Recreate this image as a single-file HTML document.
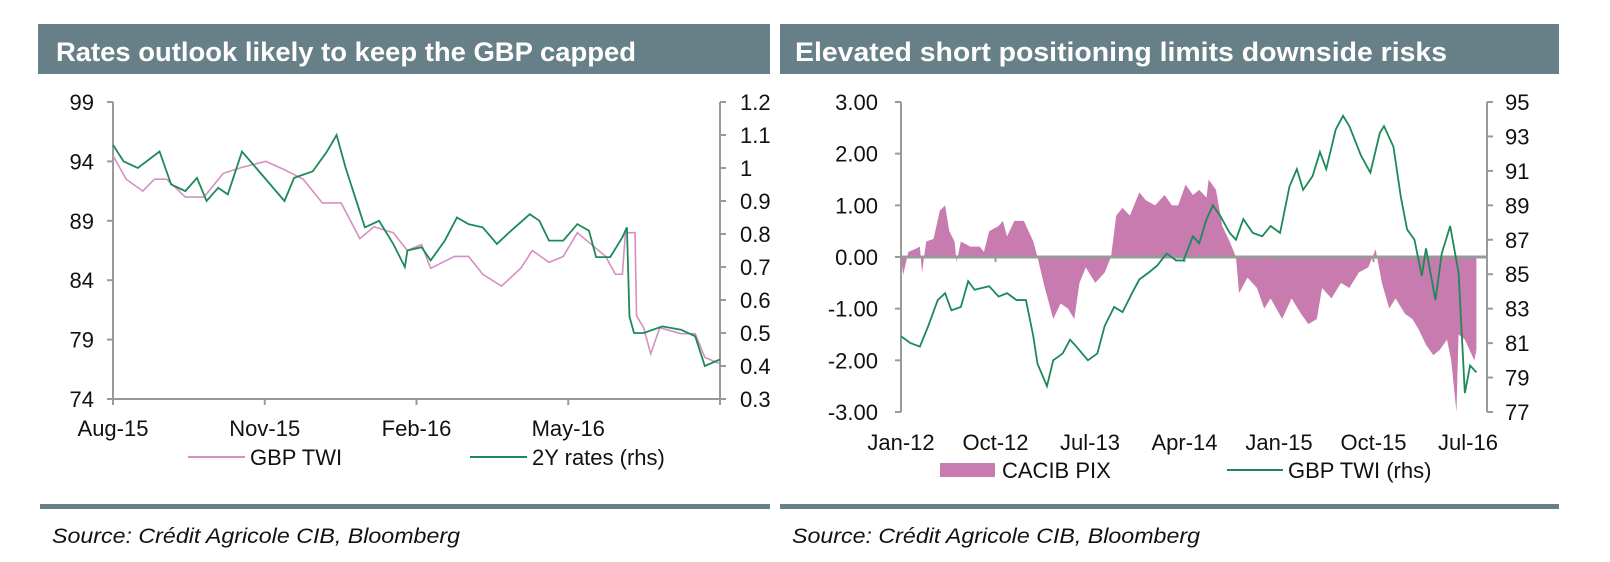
<!DOCTYPE html>
<html><head><meta charset="utf-8"><style>
html,body{margin:0;padding:0;background:#fff;}
svg{display:block;font-family:"Liberation Sans",Arial,sans-serif;}
</style></head><body>
<svg id="root" width="1610" height="562" viewBox="0 0 1610 562">
<rect x="38" y="24" width="732" height="50" fill="#677f87"/>
<text x="56" y="61" fill="#fff" font-weight="bold" font-size="27" textLength="580" lengthAdjust="spacingAndGlyphs">Rates outlook likely to keep the GBP capped</text>
<rect x="780" y="24" width="779" height="50" fill="#677f87"/>
<text x="795" y="61" fill="#fff" font-weight="bold" font-size="27" textLength="652" lengthAdjust="spacingAndGlyphs">Elevated short positioning limits downside risks</text>
<rect x="40" y="504" width="730" height="5" fill="#677f87"/>
<rect x="780" y="504" width="779" height="5" fill="#677f87"/>
<text x="52" y="543" font-style="italic" font-size="21" fill="#111" textLength="408" lengthAdjust="spacingAndGlyphs">Source: Crédit Agricole CIB, Bloomberg</text>
<text x="792" y="543" font-style="italic" font-size="21" fill="#111" textLength="408" lengthAdjust="spacingAndGlyphs">Source: Crédit Agricole CIB, Bloomberg</text>
<g id="left"></g>
<g id="right"></g>
</svg>
<script>
// ---------- Left chart data ----------
const leftXTicks = [0,3,6,9,12];
const leftXLabels = ["Aug-15","Nov-15","Feb-16","May-16",""];
const leftYTicks = [99,94,89,84,79,74];
const leftY2Ticks = [1.2,1.1,1,0.9,0.8,0.7,0.6,0.5,0.4,0.3];
const twiMonths = [0,0.26,0.59,0.82,1.06,1.43,1.8,2.18,2.55,3.02,3.39,3.76,4.14,4.51,4.88,5.16,5.54,5.82,6.1,6.28,6.75,7.03,7.31,7.68,8.06,8.29,8.62,8.9,9.18,9.46,9.74,9.93,10.07,10.13,10.32,10.35,10.49,10.63,10.81,11.23,11.51,11.7,11.98];
const twiValues = [94.5,92.5,91.5,92.5,92.5,91,91,93,93.5,94,93.3,92.5,90.5,90.5,87.5,88.5,88,86.5,87,85,86,86,84.5,83.5,85,86.5,85.5,86,88,87,86,84.5,84.5,88,88,81,80,77.8,80,79.5,79.5,77.5,77];
const rateMonths = [0,0.21,0.49,0.92,1.15,1.43,1.66,1.85,2.08,2.27,2.55,2.83,3.39,3.58,3.95,4.23,4.42,4.6,4.79,4.98,5.26,5.54,5.77,5.82,6.1,6.28,6.56,6.8,7.03,7.31,7.59,7.87,8.24,8.43,8.62,8.9,9.18,9.41,9.55,9.83,10.07,10.16,10.21,10.3,10.49,10.86,11.23,11.51,11.7,12];
const rateValues = [1.07,1.02,1.0,1.05,0.95,0.93,0.97,0.9,0.94,0.92,1.05,1.0,0.9,0.97,0.99,1.05,1.1,1.0,0.91,0.82,0.84,0.77,0.7,0.75,0.76,0.72,0.78,0.85,0.83,0.82,0.77,0.81,0.86,0.84,0.78,0.78,0.83,0.81,0.73,0.73,0.79,0.82,0.55,0.5,0.5,0.52,0.51,0.49,0.4,0.42];
// ---------- Right chart data ----------
const rightXTicks = [0,9,18,27,36,45,54];
const rightXLabels = ["Jan-12","Oct-12","Jul-13","Apr-14","Jan-15","Oct-15","Jul-16"];
const rightYTicks = [3,2,1,0,-1,-2,-3];
const rightYLabels = ["3.00","2.00","1.00","0.00","-1.00","-2.00","-3.00"];
const rightY2Ticks = [95,93,91,89,87,85,83,81,79,77];
const pixMonths = [0,0.2,0.7,1.3,1.8,2.0,2.4,3.1,3.7,4.2,4.6,5.1,5.3,5.7,6.6,7.5,7.9,8.4,9.3,9.7,10.1,10.8,11.7,12.6,13.0,13.7,14.5,15.2,15.9,16.5,17.0,17.6,18.5,19.4,20.0,20.5,21.1,21.8,22.7,23.3,24.2,25.1,25.8,26.4,27.1,27.8,28.4,29.1,29.3,30.0,30.6,31.3,31.9,32.2,33.0,33.9,34.6,35.2,36.3,37.2,38.1,38.8,39.6,40.1,41.0,41.9,42.7,43.6,44.5,45.2,45.8,46.5,47.1,48.0,48.7,49.3,50.0,50.7,51.3,52.0,52.4,52.9,53.1,53.7,54.6,54.8];
const pixValues = [0,-0.35,0.1,0.15,0.2,-0.3,0.3,0.35,0.9,1.0,0.5,0.3,-0.1,0.3,0.2,0.2,0.1,0.5,0.6,0.7,0.4,0.7,0.7,0.3,0,-0.6,-1.2,-0.9,-1.0,-1.2,-0.5,-0.2,-0.5,-0.3,0,0.8,0.95,0.8,1.25,1.1,1.0,1.2,1.0,1.0,1.4,1.2,1.3,1.15,1.5,1.3,0.6,0.3,0,-0.7,-0.4,-0.6,-1.0,-0.8,-1.2,-0.8,-1.1,-1.3,-1.2,-0.6,-0.8,-0.5,-0.6,-0.3,-0.2,0.15,-0.5,-1.0,-0.8,-1.1,-1.2,-1.4,-1.7,-1.9,-1.8,-1.6,-2.0,-3.0,-1.5,-1.6,-2.0,-1.8];
const rTwiMonths = [0,0.9,1.8,2.6,3.5,4.2,4.8,5.7,6.4,7.0,8.4,9.3,10.1,11.0,11.9,12.6,13.0,13.9,14.5,15.4,16.1,16.7,17.8,18.7,19.4,20.3,21.1,22.0,22.7,23.6,24.4,25.3,26.2,26.9,27.8,28.4,29.1,29.7,30.4,31.3,31.9,32.6,33.5,34.4,35.2,36.1,37.0,37.7,38.3,39.2,39.9,40.5,41.4,42.1,42.7,43.8,44.7,45.6,46.0,46.9,47.6,48.2,48.9,49.6,50.0,50.9,51.5,52.3,53.1,53.7,54.2,54.8];
const rTwiValues = [81.4,81.0,80.8,82.0,83.5,83.9,82.9,83.1,84.6,84.1,84.3,83.7,83.9,83.5,83.5,81.4,79.8,78.5,80.0,80.4,81.2,80.8,80.0,80.4,82.0,83.1,82.8,83.9,84.7,85.1,85.5,86.2,85.8,85.8,87.2,86.8,88.2,89.0,88.4,87.4,87.0,88.2,87.4,87.2,87.8,87.4,90.1,91.1,89.9,90.7,92.1,91.1,93.4,94.2,93.6,91.9,90.9,93.2,93.6,92.4,89.5,87.6,87.0,84.9,86.5,83.5,86.2,87.8,85.1,78.1,79.7,79.3];

const NS="http://www.w3.org/2000/svg";
function mk(parent,tag,attrs){const e=document.createElementNS(NS,tag);for(const k in attrs)e.setAttribute(k,attrs[k]);parent.appendChild(e);return e;}
function lin(d0,d1,r0,r1){return v=>r0+(v-d0)/(d1-d0)*(r1-r0);}
const PINK="#d58fc2", PINKFILL="#c77bae", GREEN="#1b8a58", AX="#9a9a9a";

// ---------- Left chart ----------
(function(){
  const g=document.getElementById('left');
  const x=lin(0,12,113,720), y=lin(74,99,399,102), y2=lin(0.3,1.2,399,102);
  let e;
  e=mk(g,'path',{d:`M113,102V399H720V102`,fill:'none',stroke:AX,'stroke-width':2});
  
  
  leftYTicks.forEach(v=>{
    mk(g,'line',{x1:107,x2:113,y1:y(v),y2:y(v),stroke:AX,'stroke-width':2});
    e=mk(g,'text',{x:94,y:y(v)+8,'text-anchor':'end','font-size':22,fill:'#111'});e.textContent=v;
    
    
  });
  leftY2Ticks.forEach(v=>{
    mk(g,'line',{x1:720,x2:726,y1:y2(v),y2:y2(v),stroke:AX,'stroke-width':2});
    e=mk(g,'text',{x:740,y:y2(v)+8,'font-size':22,fill:'#111'});e.textContent=v;
    
    
  });
  leftXTicks.forEach((v,i)=>{
    mk(g,'line',{x1:x(v),x2:x(v),y1:399,y2:405,stroke:AX,'stroke-width':2});
    e=mk(g,'text',{x:x(v),y:436,'text-anchor':'middle','font-size':22,fill:'#111'});e.textContent=leftXLabels[i];
    
    
  });
  e=mk(g,'polyline',{points:twiMonths.map((m,i)=>x(m)+','+y(twiValues[i])).join(' '),fill:'none',stroke:PINK,'stroke-width':1.6});
  
  
  e=mk(g,'polyline',{points:rateMonths.map((m,i)=>x(m)+','+y2(rateValues[i])).join(' '),fill:'none',stroke:GREEN,'stroke-width':1.8});
  
  
  mk(g,'line',{x1:188,x2:245,y1:457,y2:457,stroke:PINK,'stroke-width':2});
  e=mk(g,'text',{x:250,y:465,'font-size':22,fill:'#111'});e.textContent='GBP TWI';
  
  
  mk(g,'line',{x1:470,x2:527,y1:457,y2:457,stroke:GREEN,'stroke-width':2});
  e=mk(g,'text',{x:532,y:465,'font-size':22,fill:'#111'});e.textContent='2Y rates (rhs)';
  
  
})();

// ---------- Right chart ----------
(function(){
  const g=document.getElementById('right');
  const x=lin(0,54,901,1468), y=lin(-3,3,412,102), y2=lin(77,95,412,102);
  let e;
  const pts=pixMonths.map((m,i)=>x(m)+','+y(pixValues[i]));
  e=mk(g,'polygon',{points:x(pixMonths[0])+','+y(0)+' '+pts.join(' ')+' '+x(pixMonths[pixMonths.length-1])+','+y(0),fill:PINKFILL,stroke:'none'});
  
  
  e=mk(g,'path',{d:`M901,102V412M1487,102V412`,fill:'none',stroke:AX,'stroke-width':2});
  
  
  e=mk(g,'line',{x1:901,x2:1487,y1:y(0),y2:y(0),stroke:'#999','stroke-width':3});
  
  
  rightYTicks.forEach((v,i)=>{
    mk(g,'line',{x1:895,x2:901,y1:y(v),y2:y(v),stroke:AX,'stroke-width':2});
    e=mk(g,'text',{x:878,y:y(v)+8,'text-anchor':'end','font-size':22,fill:'#111'});e.textContent=rightYLabels[i];
    
    
  });
  rightY2Ticks.forEach(v=>{
    mk(g,'line',{x1:1487,x2:1493,y1:y2(v),y2:y2(v),stroke:AX,'stroke-width':2});
    e=mk(g,'text',{x:1505,y:y2(v)+8,'font-size':22,fill:'#111'});e.textContent=v;
    
    
  });
  rightXTicks.forEach((v,i)=>{
    mk(g,'line',{x1:x(v),x2:x(v),y1:y(0),y2:y(0)+5,stroke:AX,'stroke-width':2});
    e=mk(g,'text',{x:x(v),y:450,'text-anchor':'middle','font-size':22,fill:'#111'});e.textContent=rightXLabels[i];
    
    
  });
  e=mk(g,'polyline',{points:rTwiMonths.map((m,i)=>x(m)+','+y2(rTwiValues[i])).join(' '),fill:'none',stroke:GREEN,'stroke-width':1.8});
  
  
  mk(g,'rect',{x:940,y:463,width:55,height:14,fill:PINKFILL});
  e=mk(g,'text',{x:1002,y:478,'font-size':22,fill:'#111'});e.textContent='CACIB PIX';
  
  
  mk(g,'line',{x1:1227,x2:1283,y1:470,y2:470,stroke:GREEN,'stroke-width':2});
  e=mk(g,'text',{x:1288,y:478,'font-size':22,fill:'#111'});e.textContent='GBP TWI (rhs)';
  
  
})();
</script>
</body></html>
